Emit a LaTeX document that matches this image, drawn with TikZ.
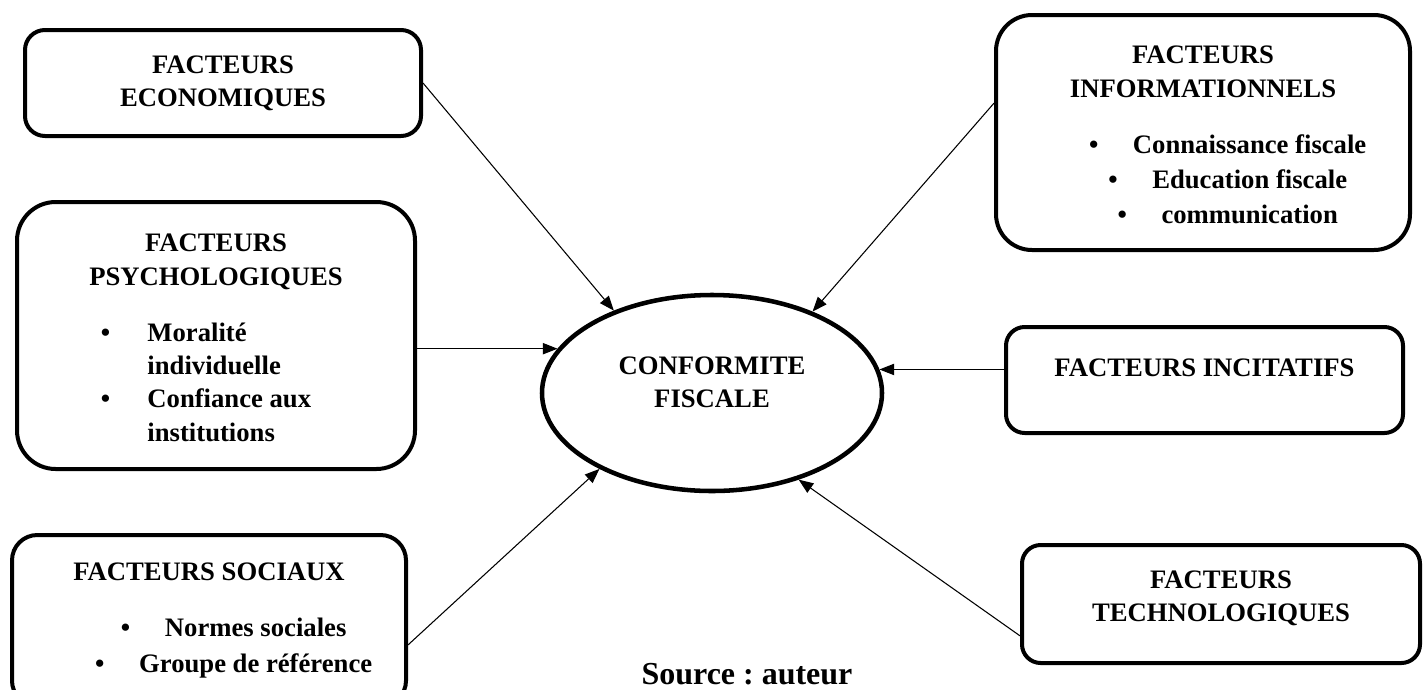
\documentclass[tikz,border=0pt]{standalone}
\usepackage{fontspec}
\setmainfont{Liberation Serif}
\usetikzlibrary{shapes.geometric,arrows.meta}

\tikzset{every picture/.style={line width=0.75pt}}
\tikzset{
  factbox/.style={draw, line width=3pt, rounded corners=#1, align=center, inner sep=0pt,
    font=\bfseries\fontsize{20}{25}\selectfont},
  factbox/.default=14pt,
  txt/.style={align=center, inner sep=0pt, font=\bfseries\fontsize{20}{25}\selectfont},
  link/.style={line width=0.8pt, -{Triangle[length=11pt,width=8.5pt]}},
}
\newcommand{\puce}{\hspace*{37pt}\textbullet\hspace{26pt}}
\frenchspacing

\begin{document}
\begin{tikzpicture}[x=0.75pt,y=0.75pt,yscale=-1,xscale=1]
\useasboundingbox (0,0) rectangle (1427,689);

%Shape: Ellipse
\node[ellipse, draw, line width=3.4pt, inner sep=0pt, minimum width=255pt, minimum height=147pt] (conf) at (712,393) {};
% Text Node
\node[txt] (conftxt) at (712,382.5) {CONFORMITE\\FISCALE};

%Shape: Rounded Rect (left)
\node[factbox=15pt, minimum width=297pt, minimum height=79.5pt] (econ) at (223,83) {FACTEURS\\ECONOMIQUES};
\node[factbox=29pt, minimum width=298.5pt, minimum height=200.25pt] (psych) at (216,335.5)
  {\rule{0pt}{24pt}FACTEURS\\PSYCHOLOGIQUES\\[17pt]%
   \begin{tabular}[t]{@{}l@{\hspace{28pt}}l@{\hspace{15pt}}}
   \textbullet & Moralité\\
               & individuelle\\
   \textbullet & Confiance aux\\
               & institutions
   \end{tabular}};
\node[factbox=19pt, minimum width=295.5pt, minimum height=128.25pt] (soc) at (209,620.5)
  {FACTEURS SOCIAUX\\[17pt]\puce Normes sociales\\[1.5pt]\puce Groupe de référence};

%Shape: Rounded Rect (right)
\node[factbox=27pt, minimum width=310.5pt, minimum height=176.25pt] (info) at (1203,132.5)
  {\rule{0pt}{17pt}FACTEURS\\INFORMATIONNELS\\[17pt]\puce Connaissance fiscale\\[1.5pt]\puce Education fiscale\\[1.5pt]\puce communication};
\node[factbox, text depth=18pt, minimum width=297.75pt, minimum height=79.5pt] (incit) at (1204.5,380) {FACTEURS INCITATIFS};
\node[factbox, minimum width=298.5pt, minimum height=88.5pt] (tech) at (1221,604) {FACTEURS\\TECHNOLOGIQUES\rule[-11.5pt]{0pt}{0pt}};

%Straight Lines
\draw[link] (econ.east) -- (conf.140.7);
\draw[link] (psych.east |- conf.164.7) -- (conf.164.7);
\draw[link] (soc.-7) -- (conf.214.7);
\draw[link] (info.172.5) -- (conf.39.7);
\draw[link] (incit.west |- conf.8.8) -- (conf.8.8);
\draw[link] (tech.189.3) -- (conf.315.3);

% Text Node
\node[font=\bfseries\fontsize{24}{28}\selectfont, inner sep=0pt] (src) at (747,674) {Source : auteur};
\end{tikzpicture}
\end{document}
